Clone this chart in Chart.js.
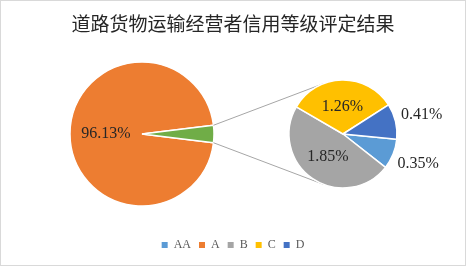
<!DOCTYPE html>
<html>
<head>
<meta charset="utf-8">
<script src="https://cdn.jsdelivr.net/npm/chart.js@4.4.1/dist/chart.umd.min.js"></script>
<style>
    html, body { margin: 0; padding: 0; background: #fff; }
    #wrap { position: relative; width: 466px; height: 266px; }
    #wrap canvas { position: absolute; left: 0; top: 0; }
</style>
</head>
<body>
<div id="wrap">
    <canvas id="frame" width="466" height="266"></canvas>
    <canvas id="main_pie" width="466" height="266"></canvas>
    <canvas id="sub_pie" width="466" height="266"></canvas>
</div>
<script>
// data
var chartTitle = '道路货物运输经营者信用等级评定结果';
var categories = ['AA', 'A', 'B', 'C', 'D'];
var shares = [0.35, 96.13, 1.85, 1.26, 0.41];
var mainCategory = 'A';
var otherLabel = '其他';

// styles
var colors = { AA: '#5B9BD5', A: '#ED7D31', B: '#A5A5A5', C: '#FFC000', D: '#4472C4' };
var otherColor = '#70AD47';
var labelFont = '16px "Liberation Serif", "Times New Roman", serif';

var subCats = categories.filter(function (c) { return c !== mainCategory; });
var subVals = subCats.map(function (c) { return shares[categories.indexOf(c)]; });
var mainVal = shares[categories.indexOf(mainCategory)];
var otherVal = subVals.reduce(function (a, b) { return a + b; }, 0);

// percent labels, small slices go outside
var pctLabels = {
    id: 'pctLabels',
    afterDatasetsDraw: function (chart, args, opts) {
        var ctx = chart.ctx;
        var meta = chart.getDatasetMeta(0);
        var ds = chart.data.datasets[0];
        var total = ds.data.reduce(function (a, b) { return a + b; }, 0);
        var skip = opts.skip || [];
        ctx.save();
        ctx.font = labelFont;
        ctx.fillStyle = '#262626';
        ctx.textAlign = 'center';
        ctx.textBaseline = 'middle';
        meta.data.forEach(function (arc, i) {
            if (skip.indexOf(i) >= 0) return;
            var x, y;
            if (ds.data[i] / total < 0.15) {
                var mid = (arc.startAngle + arc.endAngle) / 2;
                var d = arc.outerRadius + 27;
                x = arc.x + d * Math.cos(mid);
                y = arc.y + d * Math.sin(mid);
            } else {
                var p = arc.tooltipPosition();
                x = p.x;
                y = p.y;
            }
            ctx.fillText(ds.data[i].toFixed(2) + '%', x, y);
        });
        ctx.restore();
    }
};

var mainChart = new Chart(document.getElementById('main_pie').getContext('2d'), {
    type: 'pie',
    data: {
        labels: [mainCategory, otherLabel],
        datasets: [{
            data: [mainVal, otherVal],
            backgroundColor: [colors.A, otherColor],
            borderColor: '#fff',
            borderWidth: 1.5
        }]
    },
    options: {
        responsive: false,
        animation: false,
        events: [],
        radius: 72,
        rotation: 90 + otherVal / (mainVal + otherVal) * 180,
        layout: { padding: { left: 52, right: 234, top: 44, bottom: 42 } },
        plugins: {
            legend: { display: false },
            tooltip: { enabled: false },
            pctLabels: { skip: [1] }
        }
    },
    plugins: [pctLabels]
});

// lines from the small slice to the second pie
var connectors = {
    id: 'connectors',
    beforeDatasetsDraw: function (chart) {
        var ctx = chart.ctx;
        var src = mainChart.getDatasetMeta(0).data[1];
        var dst = chart.getDatasetMeta(0).data[0];
        var cx = dst.x, cy = dst.y, r = dst.outerRadius;
        ctx.save();
        ctx.strokeStyle = '#A6A6A6';
        ctx.lineWidth = 1;
        [src.startAngle, src.endAngle].forEach(function (a, k) {
            var px = src.x + src.outerRadius * Math.cos(a);
            var py = src.y + src.outerRadius * Math.sin(a);
            var d = Math.hypot(px - cx, py - cy);
            var phi = Math.atan2(py - cy, px - cx);
            var alpha = Math.acos(r / d);
            var t1 = phi + alpha, t2 = phi - alpha;
            var y1 = cy + r * Math.sin(t1), y2 = cy + r * Math.sin(t2);
            var t = (k === 0) === (y1 < y2) ? t1 : t2;
            ctx.beginPath();
            ctx.moveTo(px, py);
            ctx.lineTo(cx + r * Math.cos(t), cy + r * Math.sin(t));
            ctx.stroke();
        });
        ctx.restore();
    }
};

new Chart(document.getElementById('sub_pie').getContext('2d'), {
    type: 'pie',
    data: {
        labels: subCats,
        datasets: [{
            data: subVals,
            backgroundColor: subCats.map(function (c) { return colors[c]; }),
            borderColor: '#fff',
            borderWidth: 1.5
        }]
    },
    options: {
        responsive: false,
        animation: false,
        events: [],
        radius: 54,
        rotation: 95.6,
        layout: { padding: { left: 253, right: 33, top: 44, bottom: 42 } },
        plugins: {
            legend: { display: false },
            tooltip: { enabled: false }
        }
    },
    plugins: [connectors, pctLabels]
});

// title, legend and outer border
var frameBorder = {
    id: 'frameBorder',
    beforeDraw: function (chart) {
        var ctx = chart.ctx;
        ctx.save();
        ctx.strokeStyle = '#D9D9D9';
        ctx.lineWidth = 1;
        ctx.strokeRect(0.5, 0.5, chart.width - 1, chart.height - 1);
        ctx.restore();
    }
};

new Chart(document.getElementById('frame').getContext('2d'), {
    type: 'pie',
    data: {
        labels: categories,
        datasets: [{
            data: shares,
            backgroundColor: categories.map(function (c) { return colors[c]; }),
            borderWidth: 0
        }]
    },
    options: {
        responsive: false,
        animation: false,
        events: [],
        radius: 0,
        layout: { padding: { bottom: 5 } },
        plugins: {
            title: {
                display: true,
                text: chartTitle,
                color: '#262626',
                font: { family: '"Noto Sans CJK SC", sans-serif', size: 19, weight: 'normal' },
                padding: { top: 12, bottom: 10 }
            },
            legend: {
                position: 'bottom',
                labels: {
                    boxWidth: 6,
                    boxHeight: 6,
                    padding: 8,
                    color: '#595959',
                    font: { family: '"Liberation Serif", serif', size: 12 }
                }
            },
            tooltip: { enabled: false }
        }
    },
    plugins: [frameBorder]
});
</script>
</body>
</html>
